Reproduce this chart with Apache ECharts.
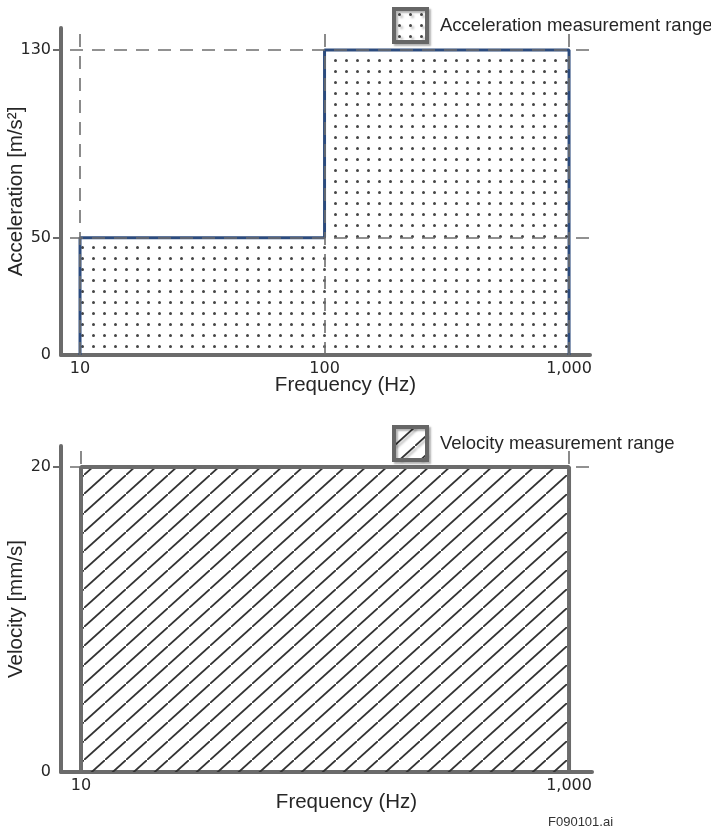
<!DOCTYPE html>
<html>
<head>
<meta charset="utf-8">
<script src="https://cdn.jsdelivr.net/npm/echarts@6.0.0/dist/echarts.min.js"></script>
<style>
  html, body { margin: 0; padding: 0; background: #fff; }
  #chart { width: 711px; height: 832px; }
</style>
</head>
<body>
<div id="chart"></div>
<script>
// acceleration measurement range outline (Hz / m/s²)
var accFreq = [10, 10, 100, 100, 1000, 1000];
var accValue = [0, 50, 50, 130, 130, 0];
var accLabels = [0, 50, 130];
var accFreqLabels = [10, 100, 1000];
var accGuideFreq = [10, 100, 1000];
var accGuideValue = [50, 130];

// velocity measurement range outline (Hz / mm/s)
var velFreq = [10, 10, 1000, 1000];
var velValue = [0, 20, 20, 0];
var velLabels = [0, 20];
var velFreqLabels = [10, 1000];
var velGuideFreq = [10, 1000];
var velGuideValue = [20];

var AXIS = '#6b6b6b';
var TEXT = '#262626';

function pairs(xs, ys) {
  return xs.map(function (x, i) { return [x, ys[i]]; });
}

// fill patterns
function dotCanvas() {
  var c = document.createElement('canvas');
  c.width = 11; c.height = 11;
  var g = c.getContext('2d');
  g.fillStyle = '#454545';
  g.beginPath();
  g.arc(5.5, 5.5, 1.5, 0, Math.PI * 2);
  g.fill();
  return c;
}
function hatchCanvas() {
  var c = document.createElement('canvas');
  c.width = 21; c.height = 19;
  var g = c.getContext('2d');
  g.strokeStyle = '#333';
  g.lineWidth = 1.8;
  g.beginPath();
  g.moveTo(-2, 19 + 2 * 19 / 21); g.lineTo(23, -2 * 19 / 21);
  g.stroke();
  return c;
}
var dotFill = { image: dotCanvas(), repeat: 'repeat' };
var hatchFill = { image: hatchCanvas(), repeat: 'repeat' };

function freqAxis(gi, min, max, shown) {
  return {
    type: 'log', logBase: 10, gridIndex: gi, min: min, max: max,
    axisLine: { show: true, onZero: false, lineStyle: { color: AXIS, width: 4 } },
    axisTick: { show: false },
    splitLine: { show: false },
    axisLabel: {
      color: TEXT, fontFamily: 'DejaVu Sans', fontSize: 16, margin: 6,
      showMinLabel: false, showMaxLabel: false,
      formatter: function (v) {
        var r = Math.round(v);
        return shown.indexOf(r) >= 0 ? r.toLocaleString('en-US') : '';
      }
    },
    name: 'Frequency (Hz)', nameLocation: 'middle', nameGap: 20, nameMoveOverlap: false,
    nameTextStyle: { color: TEXT, fontFamily: 'Liberation Sans', fontSize: 20.5, padding: [0, 0, 0, 40] }
  };
}
function valueAxis(gi, max, labels, name) {
  return {
    type: 'value', gridIndex: gi, min: 0, max: max,
    axisLine: { show: true, onZero: false, lineStyle: { color: AXIS, width: 4, cap: 'round' } },
    axisTick: { show: true, length: 8, customValues: labels.slice(1), lineStyle: { color: AXIS, width: 2 } },
    splitLine: { show: false },
    axisLabel: { customValues: labels, color: TEXT, fontFamily: 'DejaVu Sans', fontSize: 16, margin: 10 },
    name: name, nameLocation: 'middle', nameGap: 34, nameMoveOverlap: false,
    nameTextStyle: { color: TEXT, fontFamily: 'Liberation Sans', fontSize: 20.5 }
  };
}
function guides(gi, freqs, values) {
  var dash = { type: [13, 9], color: '#6e6e6e', width: 1.6 };
  var data = freqs.map(function (f) { return { xAxis: f }; })
    .concat(values.map(function (v) { return { yAxis: v, lineStyle: { dashOffset: 13 } }; }));
  return {
    type: 'line', xAxisIndex: gi, yAxisIndex: gi, data: [], z: 3, silent: true,
    markLine: { silent: true, symbol: 'none', animation: false, label: { show: false }, lineStyle: dash, data: data }
  };
}
function legendFor(name, fill, top) {
  return {
    data: [{ name: name, icon: 'rect' }],
    left: 392, top: top, padding: 0, selectedMode: false,
    itemWidth: 33, itemHeight: 33,
    itemStyle: {
      color: fill, borderColor: '#666', borderWidth: 4,
      shadowColor: 'rgba(0,0,0,0.3)', shadowBlur: 2, shadowOffsetX: 2, shadowOffsetY: 2
    },
    textStyle: { color: TEXT, fontFamily: 'Liberation Sans', fontSize: 18.5, padding: [0, 0, 0, 8] }
  };
}

var chart = echarts.init(document.getElementById('chart'));
chart.setOption({
  animation: false,
  backgroundColor: '#fff',
  grid: [
    { left: 61, right: 121, top: 28, height: 327, outerBoundsMode: 'none' },
    { left: 61, right: 119, top: 446, height: 326, outerBoundsMode: 'none' }
  ],
  xAxis: [freqAxis(0, 8.36, 1218, accFreqLabels), freqAxis(1, 8.28, 1242, velFreqLabels)],
  yAxis: [
    valueAxis(0, 139.4, accLabels, 'Acceleration [m/s²]'),
    valueAxis(1, 21.38, velLabels, 'Velocity [mm/s]')
  ],
  legend: [
    legendFor('Acceleration measurement range', dotFill, 7),
    legendFor('Velocity measurement range', hatchFill, 425)
  ],
  series: [
    {
      name: 'Acceleration measurement range', type: 'line', xAxisIndex: 0, yAxisIndex: 0,
      data: pairs(accFreq, accValue), symbol: 'none', z: 2,
      lineStyle: { color: '#2c4b7d', width: 3 },
      itemStyle: { color: '#2c4b7d' },
      areaStyle: { color: dotFill, opacity: 1 }
    },
    guides(0, accGuideFreq, accGuideValue),
    {
      name: 'Velocity measurement range', type: 'line', xAxisIndex: 1, yAxisIndex: 1,
      data: pairs(velFreq, velValue), symbol: 'none', z: 2,
      lineStyle: { color: AXIS, width: 4 },
      itemStyle: { color: AXIS },
      areaStyle: { color: hatchFill, opacity: 1 }
    },
    guides(1, velGuideFreq, velGuideValue)
  ],
  graphic: [{
    type: 'text', left: 548, top: 816,
    style: { text: 'F090101.ai', font: '13px "Liberation Sans"', fill: '#333' }
  }]
});
</script>
</body>
</html>
